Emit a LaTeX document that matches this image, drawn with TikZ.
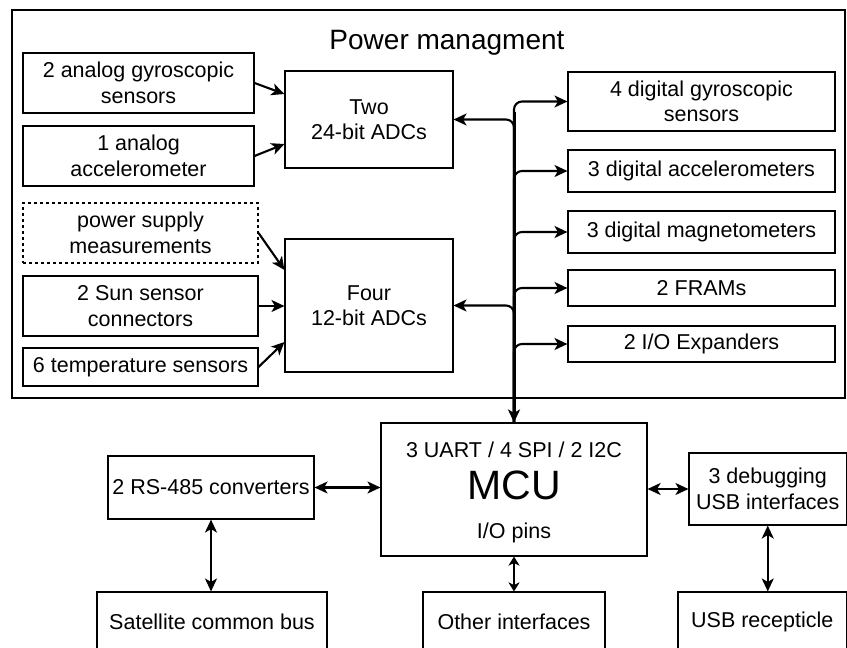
\documentclass[tikz,border=0pt]{standalone}
\usepackage{fontspec}
\setmainfont{Liberation Sans}
\usetikzlibrary{arrows.meta}

\begin{document}
\begin{tikzpicture}[%
      x=1pt, y=-1pt,
      font=\fontsize{21.5}{25.5}\selectfont,
      block/.style={draw=black, line width=1.1pt, align=center, inner sep=2pt},
      link/.style={line width=2.1pt, -{Stealth[length=13pt,width=12pt,inset=3.5pt]}},
      twoway/.style={line width=2.1pt, {Stealth[length=13pt,width=12pt,inset=3.5pt]}-{Stealth[length=13pt,width=12pt,inset=3.5pt]}},
      branch/.style={link, rounded corners=8pt},
      ]
      \useasboundingbox (0,0) rectangle (847,648);
      \clip (0,0) rectangle (847,648);

      \node [block, minimum width=833pt, minimum height=388pt] (power) at (428.5,204) {};
      \node [font=\fontsize{28}{34}\selectfont] (powerTitle) at (447,43) {Power managment};

      \node [block, minimum width=231pt, minimum height=60pt] (anaGyro) at (138.5,83) {2 analog gyroscopic\\sensors};
      \node [block, minimum width=231pt, minimum height=60pt] (anaAcc) at (138.5,156) {1 analog\\accelerometer};
      \node [block, dash pattern=on 3pt off 3pt, minimum width=235pt, minimum height=60pt] (pwrMeas) at (140.5,233) {power supply\\measurements};
      \node [block, minimum width=235pt, minimum height=60pt] (sunConn) at (140.5,306) {2 Sun sensor\\connectors};
      \node [block, minimum width=235pt, minimum height=38pt] (tempSens) at (140.5,367) {6 temperature sensors};

      \node [block, minimum width=168pt, minimum height=97pt] (adcTwo) at (369,119.5) {Two\\24-bit ADCs};
      \node [block, minimum width=168pt, minimum height=133pt] (adcFour) at (369,305.5) {Four\\12-bit ADCs};

      \node [block, minimum width=267pt, minimum height=59pt] (dGyro) at (701.5,101.5) {4 digital gyroscopic\\sensors};
      \node [block, minimum width=267pt, minimum height=42pt] (dAcc) at (701.5,171) {3 digital accelerometers};
      \node [block, minimum width=267pt, minimum height=42pt] (dMag) at (701.5,232) {3 digital magnetometers};
      \node [block, minimum width=267pt, minimum height=36pt] (fram) at (701.5,288) {2 FRAMs};
      \node [block, minimum width=267pt, minimum height=36pt] (ioExp) at (701.5,344) {2 I/O Expanders};

      \node [block, minimum width=266pt, minimum height=133pt] (mcu) at (514,489.5) {};
      \node (mcuBus) at (514,450) {3 UART / 4 SPI / 2 I2C};
      \node [font=\fontsize{41}{48}\selectfont] (mcuName) at (514,485) {MCU};
      \node (mcuPins) at (514,532.5) {I/O pins};

      \node [block, minimum width=206pt, minimum height=63pt] (rs485) at (211,487.5) {2 RS-485 converters};
      \node [block, minimum width=157.5pt, minimum height=72pt] (dbgUsb) at (767.75,489) {3 debugging\\USB interfaces};

      \node [block, minimum width=230pt, minimum height=60pt] (satBus) at (212,622) {Satellite common bus};
      \node [block, minimum width=182pt, minimum height=60pt] (otherIf) at (514,622) {Other interfaces};
      \node [block, minimum width=168.5pt, minimum height=60pt] (usbRec) at (762.25,622) {USB recepticle};

      % analog inputs
      \draw [link] (anaGyro.east) -- ([yshift=25.5pt]adcTwo.west);
      \draw [link] (anaAcc.east) -- ([yshift=-24.5pt]adcTwo.west);
      \draw [link] (pwrMeas.east) -- ([yshift=35.5pt]adcFour.west);
      \draw [link] (sunConn.east) -- (sunConn.east -| adcFour.west);
      \draw [link] (tempSens.east) -- ([yshift=-36.5pt]adcFour.west);

      % bus
      \path (mcu.north |- dGyro.west) ++(0,10) coordinate (busTop);
      \draw [line width=3pt, -{Stealth[length=13pt,width=12pt,inset=3.5pt]}] (busTop) -- (mcu.north);
      \foreach \dst in {dGyro, dAcc, dMag, fram, ioExp}
        \draw [branch] (mcu.north) |- (\dst.west);
      \foreach \dst in {adcTwo, adcFour}
        \draw [branch] (mcu.north) |- (\dst.east);

      \draw [twoway] (rs485.east) -- (rs485.east -| mcu.west);
      \draw [twoway] (mcu.east |- dbgUsb.west) -- (dbgUsb.west);
      \draw [twoway] (rs485.south) -- (rs485.south |- satBus.north);
      \draw [twoway, {Stealth[length=9pt,width=11pt,inset=2.5pt]}-{Stealth[length=9pt,width=11pt,inset=2.5pt]}] (mcu.south) -- (otherIf.north);
      \draw [twoway] (dbgUsb.south) -- (dbgUsb.south |- usbRec.north);
\end{tikzpicture}
\end{document}
